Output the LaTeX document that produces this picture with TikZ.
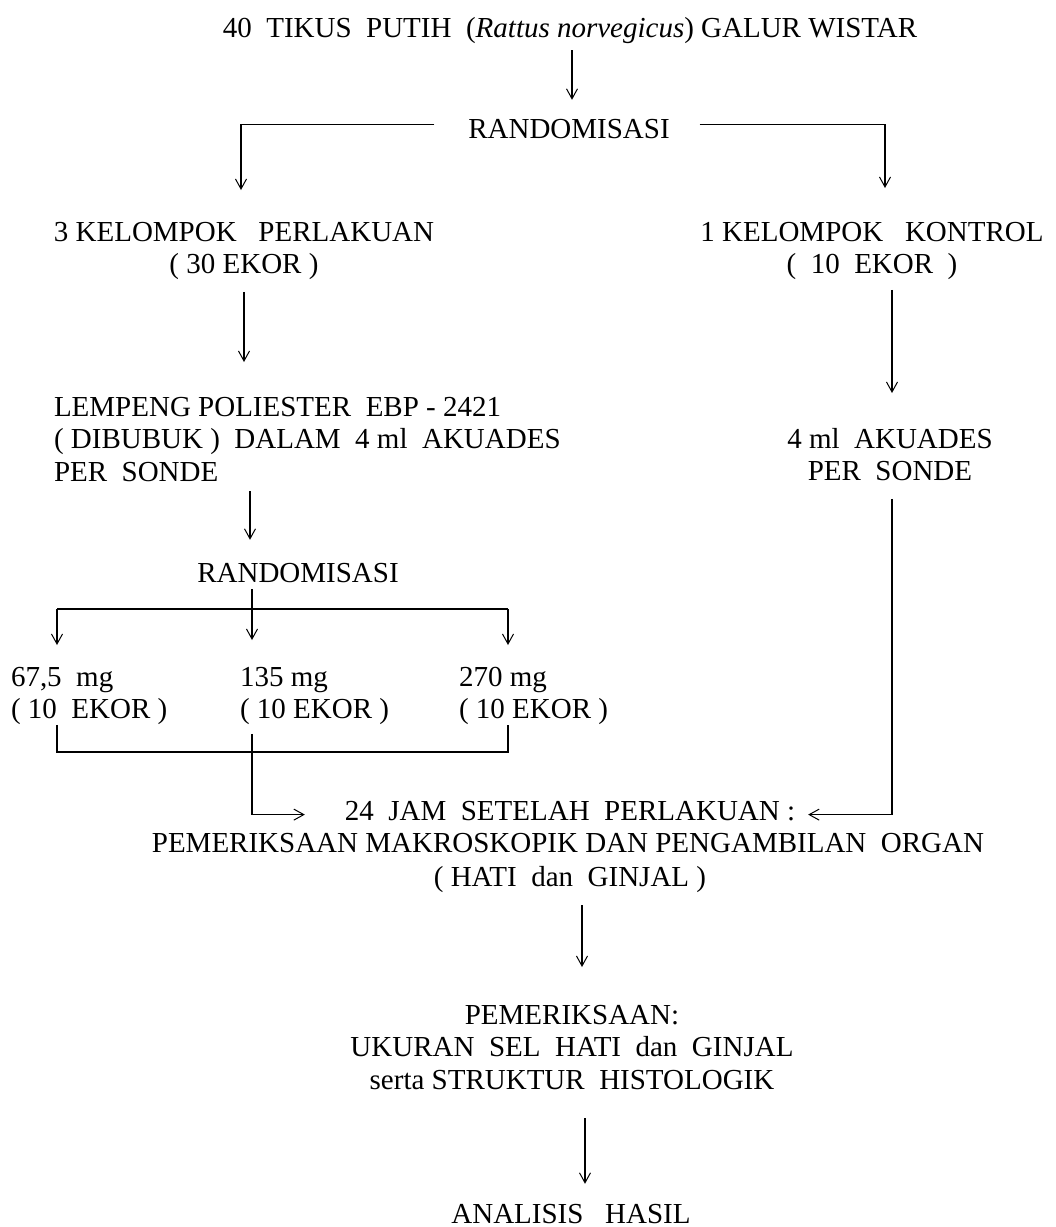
\documentclass[tikz,border=0pt]{standalone}
\usepackage{fontspec}
\setmainfont{Liberation Serif}
\usetikzlibrary{arrows.meta,calc}
\begin{document}
\begin{tikzpicture}[x=1pt,y=-1pt,
  txt/.style={inner sep=0pt, outer sep=0pt, font=\fontsize{29}{32.5}\selectfont},
  conn/.style={line width=1.1pt, black},
  arr/.style={conn, -{Straight Barb[length=10pt,width=11pt,line width=1pt]}},
]
\useasboundingbox (0,0) rectangle (1056,1227);
\fill[white] (0,0) rectangle (1056,1227);

\node[txt, anchor=base] (title) at (570,37) {40\ \ TIKUS\ \ PUTIH\ \ (\textit{Rattus norvegicus}) GALUR WISTAR};
\node[txt, anchor=base] (rand1) at (569,138) {RANDOMISASI};
\node[txt, align=center, anchor=north] (perl) at (244,222) {3 KELOMPOK\ \ \ PERLAKUAN\\( 30 EKOR )};
\node[txt, align=center, anchor=north] (kont) at (872,222) {1 KELOMPOK\ \ \ KONTROL\\(\ \ 10\ \ EKOR\ \ )};
\node[txt, align=left, anchor=north west] (lemp) at (54,397) {LEMPENG POLIESTER\ \ EBP - 2421\\( DIBUBUK )\ \ DALAM\ \ 4 ml\ \ AKUADES\\PER\ \ SONDE};
\node[txt, align=center, anchor=north] (aku) at (890,428) {4 ml\ \ AKUADES\\PER\ \ SONDE};
\node[txt, anchor=base] (rand2) at (298,582) {RANDOMISASI};
\node[txt, align=left, anchor=north west] (d1) at (11,667) {67,5\ \ mg\\( 10\ \ EKOR )};
\node[txt, align=left, anchor=north west] (d2) at (240,667) {135 mg\\( 10 EKOR )};
\node[txt, align=left, anchor=north west] (d3) at (459,667) {270 mg\\( 10 EKOR )};
\node[txt, anchor=base] (jam) at (570,820) {24\ \ JAM\ \ SETELAH\ \ PERLAKUAN :};
\node[txt, anchor=base] (pem) at (568,852) {PEMERIKSAAN MAKROSKOPIK DAN PENGAMBILAN\ \ ORGAN};
\node[txt, anchor=base] (hati) at (570,886) {( HATI\ \ dan\ \ GINJAL )};
\node[txt, align=center, anchor=north] (pem2) at (572,1005) {PEMERIKSAAN:\\UKURAN\ \ SEL\ \ HATI\ \ dan\ \ GINJAL\\serta STRUKTUR\ \ HISTOLOGIK};
\node[txt, anchor=base] (hasil) at (571,1223) {ANALISIS\ \ \ HASIL};

% connectors
\draw[arr, shorten <=7pt, shorten >=19pt] ([xshift=2pt]title.south) -- ([xshift=2pt]title.south |- rand1.north);
\draw[arr, shorten <=34pt, shorten >=32pt] ([yshift=4pt]rand1.west) -| ([xshift=-3pt]perl.north);
\draw[arr, shorten <=30pt, shorten >=34pt] ([yshift=4pt]rand1.east) -| ([xshift=13pt]kont.north);
\draw[arr, shorten <=12pt, shorten >=35pt] (perl.south) -- (perl.south |- lemp.north);
\coordinate (xR) at ($(kont.south)+(20,0)$);
\draw[arr, shorten <=10pt, shorten >=35pt] (xR) -- (xR |- aku.north);
\coordinate (xL) at ($(perl.south)+(6,0)$);
\draw[arr, shorten <=10pt, shorten >=23pt] (xL |- lemp.south) -- (xL |- rand2.north);

\coordinate (j1) at (57,609);
\coordinate (j2) at (252,609);
\coordinate (j3) at (508,609);
\draw[arr, shorten <=7pt, shorten >=27pt] (j2 |- rand2.south) -- (j2 |- d2.north);
\draw[conn] (j1) -- (j3);
\draw[arr, shorten >=22pt] (j1) -- (j1 |- d1.north);
\draw[arr, shorten >=22pt] (j3) -- (j3 |- d3.north);

\coordinate (b1) at (57,752);
\coordinate (b3) at (508,752);
\draw[conn] (j1 |- d1.south) -- (b1) -- (b3) -- (j3 |- d3.south);
\draw[arr, shorten <=9pt, shorten >=40pt] (j2 |- d2.south) |- ([yshift=-4pt]jam.west);
\draw[arr, shorten <=18pt, shorten >=13pt] (xR |- aku.south) |- ([yshift=-4pt]jam.east);

\draw[arr, shorten <=13pt, shorten >=38pt] ([xshift=12pt]hati.south) -- ([xshift=12pt]hati.south |- pem2.north);
\draw[arr, shorten <=29pt, shorten >=20pt] ([xshift=13pt]pem2.south) -- ([xshift=13pt]pem2.south |- hasil.north);
\end{tikzpicture}
\end{document}
